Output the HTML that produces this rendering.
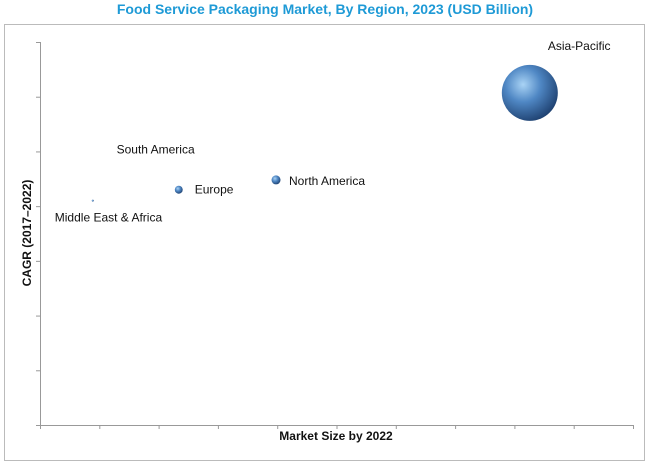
<!DOCTYPE html>
<html><head><meta charset="utf-8"><style>
body{margin:0;background:#fff;width:650px;height:466px;overflow:hidden;font-family:"Liberation Sans",sans-serif}
</style></head><body>
<svg id="chart" width="650" height="466" xmlns="http://www.w3.org/2000/svg">
<defs>
<radialGradient id="ball" cx="0.38" cy="0.35" r="0.7">
<stop offset="0" stop-color="#a9d3f5"/><stop offset="0.45" stop-color="#4f87c4"/><stop offset="1" stop-color="#1d3f6e"/>
</radialGradient>
</defs>
<text x="325" y="14" text-anchor="middle" font-size="14" font-weight="bold" fill="#1e9ad6">Food Service Packaging Market, By Region, 2023 (USD Billion)</text>
<rect x="4.5" y="24.5" width="640" height="436" fill="none" stroke="#bbb" stroke-width="1"/>
<g id="axes"></g>
<g id="marks"></g>
<text x="336" y="440" text-anchor="middle" font-size="12" font-weight="bold" fill="#111">Market Size by 2022</text>
<text transform="translate(31,233) rotate(-90)" text-anchor="middle" font-size="12" font-weight="bold" fill="#111">CAGR (2017–2022)</text>
</svg>
<script>
const regions = ["Asia-Pacific","North America","Europe","Middle East & Africa","South America"];
const marketSize = [8.26, 3.98, 2.34, 0.89, 2.0];
const cagr = [6.07, 4.48, 4.30, 4.10, 5.0];
const bubbleSize = [100, 2.6, 2.0, 0.13, 0];
const xTicks = [0,1,2,3,4,5,6,7,8,9,10];
const yTicks = [0,1,2,3,4,5,6,7];

const X0=40,X1=633,Y0=425,Y1=42;
const xs=v=>X0+(X1-X0)*v/10;
const ys=v=>Y0-(Y0-Y1)*v/7;
const rs=v=>2.8*Math.sqrt(v);
const NS="http://www.w3.org/2000/svg";
const ax=document.getElementById('axes'), mk=document.getElementById('marks');
function mkEl(t,a,p){const e=document.createElementNS(NS,t);for(const k in a)e.setAttribute(k,a[k]);p.appendChild(e);return e;}
const xl=mkEl('line',{x1:X0,y1:Y0+0.5,x2:X1,y2:Y0+0.5,stroke:'#999'},ax);


const yl=mkEl('line',{x1:X0+0.5,y1:Y1,x2:X0+0.5,y2:Y0,stroke:'#999'},ax);


xTicks.forEach(t=>{const l=mkEl('line',{x1:xs(t)+0.5,y1:Y0,x2:xs(t)+0.5,y2:Y0+4,stroke:'#999'},ax);

});
yTicks.forEach(t=>{const l=mkEl('line',{x1:X0-4,y1:ys(t)+0.5,x2:X0,y2:ys(t)+0.5,stroke:'#999'},ax);

});
// label offsets relative to bubble centre
const lblDx=[18,13,16,-38,-42], lblDy=[-43,5,4,21,2], lblAnchor=['start','start','start','start','start'];
regions.forEach((r,i)=>{
  const cx=xs(marketSize[i]), cy=ys(cagr[i]), rad=rs(bubbleSize[i]);
  if(rad>0){const c=mkEl('circle',{cx:cx,cy:cy,r:Math.max(rad,0.8),fill:'url(#ball)'},mk);
  
  }
  const t=mkEl('text',{x:cx+lblDx[i],y:cy+lblDy[i],'font-size':12,fill:'#111','text-anchor':lblAnchor[i]},mk);
  t.textContent=r;
  
  
});
</script>
</body></html>
